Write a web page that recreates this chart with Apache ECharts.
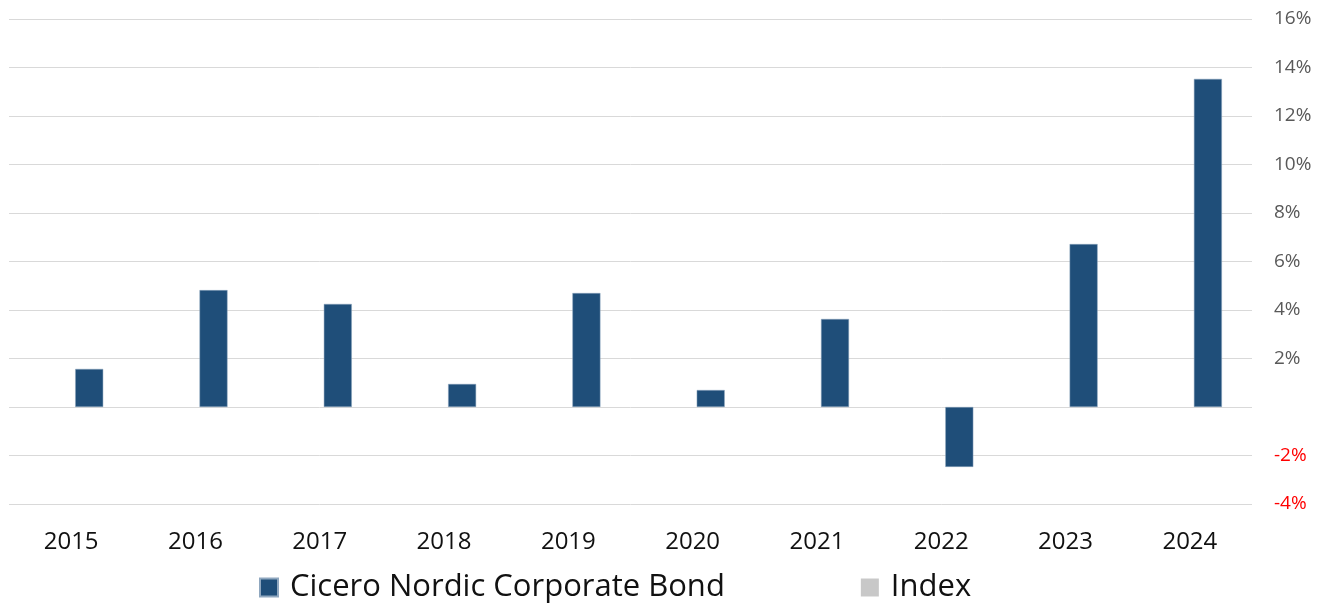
<!DOCTYPE html>
<html>
<head>
<meta charset="utf-8">
<script src="https://cdn.jsdelivr.net/npm/echarts@6/dist/echarts.min.js"></script>
<style>
html,body{margin:0;padding:0;background:#fff;}
#chart{width:1329px;height:612px;}
</style>
</head>
<body>
<div id="chart"></div>
<script>
var years = ['2015','2016','2017','2018','2019','2020','2021','2022','2023','2024'];
var ciceroValues = [1.57, 4.82, 4.25, 0.95, 4.70, 0.70, 3.63, -2.47, 6.72, 13.53];
var indexValues = [];
var seriesNames = ['Cicero Nordic Corporate Bond', 'Index'];

var chart = echarts.init(document.getElementById('chart'));
chart.setOption({
  animation: false,
  backgroundColor: '#ffffff',
  grid: { left: 9, right: 77, top: 19, bottom: 108, containLabel: false },
  legend: {
    data: seriesNames,
    left: 254,
    top: 567,
    itemWidth: 18,
    itemHeight: 18,
    itemGap: 136,
    icon: 'rect',
    textStyle: { fontFamily: 'Open Sans', fontSize: 31, color: '#111111', padding: [0, 0, 0, 7] }
  },
  xAxis: {
    type: 'category',
    data: years,
    axisLine: { show: false },
    axisTick: { show: false },
    axisLabel: { fontFamily: 'Open Sans', fontSize: 24, color: '#111111', margin: 26 }
  },
  yAxis: {
    type: 'value',
    position: 'right',
    min: -4,
    max: 16,
    interval: 2,
    axisLine: { show: false },
    axisTick: { show: false },
    splitLine: { lineStyle: { color: '#d9d9d9', width: 1 } },
    axisLabel: {
      margin: 22,
      fontFamily: 'Open Sans',
      fontSize: 19,
      formatter: function (v) {
        if (v === 0) return '';
        return v < 0 ? '{neg|' + v + '%}' : v + '%';
      },
      color: '#595959',
      rich: { neg: { color: '#ff0000', fontFamily: 'Open Sans', fontSize: 19 } }
    }
  },
  series: [
    {
      name: seriesNames[1],
      type: 'bar',
      data: indexValues,
      barWidth: 28,
      barGap: '29%',
      itemStyle: { color: '#c8c8c8' }
    },
    {
      name: seriesNames[0],
      type: 'bar',
      data: ciceroValues,
      barWidth: 28,
      barGap: '29%',
      itemStyle: { color: '#1f4e79', borderColor: '#8fa7bf', borderWidth: 0.5 }
    }
  ]
});
</script>
</body>
</html>
